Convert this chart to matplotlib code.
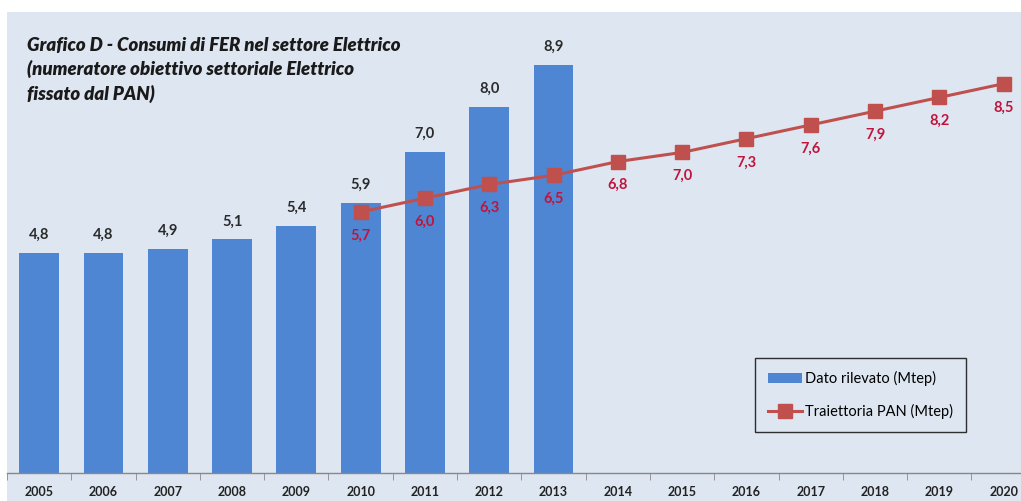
import matplotlib
matplotlib.use("Agg")
from matplotlib import pyplot as plt
from matplotlib.patches import Rectangle
import numpy as np

plt.rcParams['font.family'] = ['Lato', 'DejaVu Sans']

years = ['2005', '2006', '2007', '2008', '2009', '2010', '2011', '2012',
         '2013', '2014', '2015', '2016', '2017', '2018', '2019', '2020']
dato = [4.8, 4.8, 4.9, 5.1, 5.4, 5.9, 7.0, 8.0, 8.9]
pan_years = years[5:]
pan = [5.7, 6.0, 6.3, 6.5, 6.8, 7.0, 7.3, 7.6, 7.9, 8.2, 8.5]

bg = '#dde6f1'
blue = '#4f86d3'
red = '#c0504d'
lab_red = '#c0143c'

W, H = 1021, 501
fig = plt.figure(figsize=(W / 100, H / 100), dpi=100)
fig.patches.append(Rectangle((7 / W, 0), 1, (H - 12) / H, transform=fig.transFigure,
                             facecolor=bg, edgecolor='none', zorder=-5))

step = 64.3
ax = fig.add_axes([7 / W, (H - 473) / H, 16 * step / W, (473 - 12) / H])
ax.patch.set_alpha(0)

x = np.arange(len(years))
xb = x[:len(dato)]
xp = x[5:]

bars = ax.bar(xb, dato, width=0.62, color=blue, label='Dato rilevato (Mtep)', zorder=2)
line, = ax.plot(xp, pan, color=red, lw=2.2, marker='s', ms=10, mfc=red, mec=red,
                label='Traiettoria PAN (Mtep)', zorder=3)

for xi, v in zip(xb, dato):
    ax.annotate(f'{v:.1f}'.replace('.', ','), (xi, v), xytext=(0, 8), textcoords='offset points',
                ha='center', va='bottom', fontsize=10.5, fontweight='bold', color='#2b2b2b')
for xi, v in zip(xp, pan):
    ax.annotate(f'{v:.1f}'.replace('.', ','), (xi, v), xytext=(0, -12), textcoords='offset points',
                ha='center', va='top', fontsize=10.5, fontweight='bold', color=lab_red)

ax.set_xlim(-0.5, len(years) - 0.5)
ax.set_ylim(0, 461 / 45.8)
ax.set_yticks([])
for s in ['top', 'right', 'left']:
    ax.spines[s].set_visible(False)
ax.spines['bottom'].set_color('#888888')
ax.spines['bottom'].set_linewidth(1)

ax.set_xticks(x)
ax.set_xticklabels(years, fontsize=9, fontweight='bold', color='#222222')
ax.tick_params(axis='x', length=0, pad=9)
ax.set_xticks(np.arange(len(years) + 1) - 0.5, minor=True)
ax.tick_params(axis='x', which='minor', length=5, color='#888888', direction='out')

fig.text(27 / W, 1 - 70 / H,
         'Grafico D - Consumi di FER nel settore Elettrico\n(numeratore obiettivo settoriale Elettrico\nfissato dal PAN)',
         ha='left', va='center', fontsize=13.4, fontweight='heavy', fontstyle='italic',
         color='#1a1a1a', linespacing=1.4)

leg = ax.legend([bars, line], ['Dato rilevato (Mtep)', 'Traiettoria PAN (Mtep)'],
                loc='upper left', bbox_to_anchor=(755 / W, 1 - 358 / H), bbox_transform=fig.transFigure,
                frameon=True, fancybox=False, fontsize=10.5, handlelength=2.3,
                borderpad=0.9, labelspacing=1.2, handletextpad=0.2, borderaxespad=0)
leg.get_frame().set_edgecolor('black')
leg.get_frame().set_facecolor(bg)
leg.get_frame().set_linewidth(1)

fig.savefig('out.png', dpi=100)
